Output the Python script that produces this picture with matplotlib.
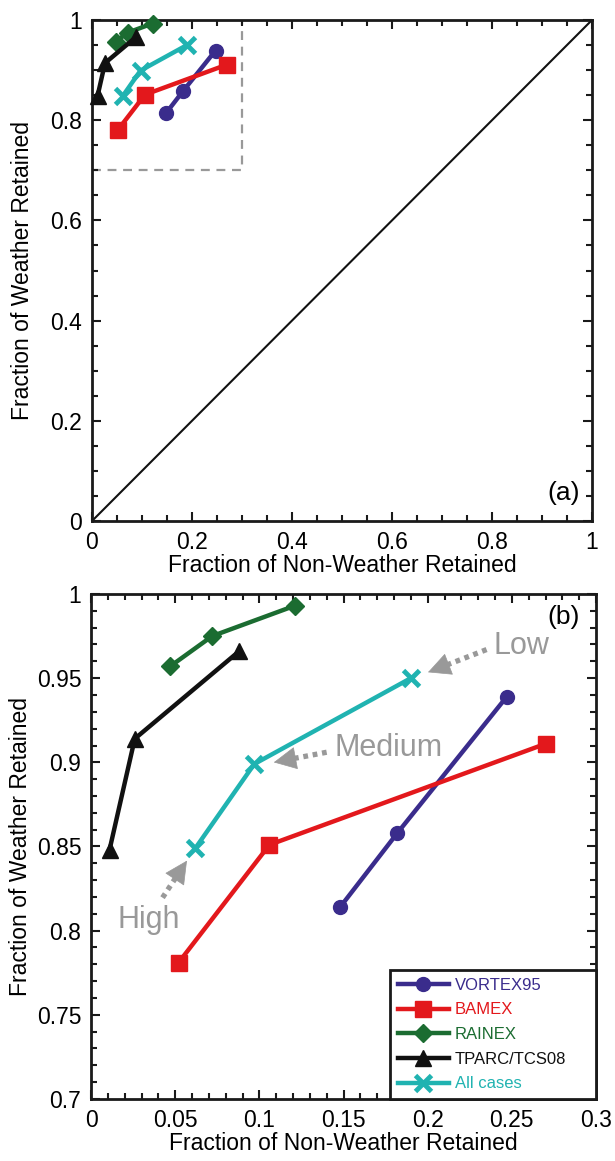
import matplotlib
matplotlib.use('Agg')
import matplotlib.pyplot as plt
from matplotlib.ticker import MultipleLocator, FuncFormatter

# ---------------- data ----------------
series_names = ['VORTEX95', 'BAMEX', 'RAINEX', 'TPARC/TCS08', 'All cases']
vortex_x = [0.148, 0.182, 0.247]
vortex_y = [0.814, 0.858, 0.939]
bamex_x = [0.052, 0.106, 0.270]
bamex_y = [0.781, 0.851, 0.911]
rainex_x = [0.047, 0.072, 0.121]
rainex_y = [0.957, 0.975, 0.993]
tparc_x = [0.011, 0.026, 0.088]
tparc_y = [0.848, 0.914, 0.966]
all_x = [0.062, 0.097, 0.190]
all_y = [0.849, 0.899, 0.950]

level_labels = ['Low', 'Medium', 'High']
level_text_xy = [(0.256, 0.969), (0.177, 0.9085), (0.0343, 0.8065)]
level_tail_xy = [(0.235, 0.967), (0.140, 0.906), (0.0425, 0.8196)]
level_tip_xy = [(0.2002, 0.9535), (0.1086, 0.900), (0.057, 0.8416)]

xs = [vortex_x, bamex_x, rainex_x, tparc_x, all_x]
ys = [vortex_y, bamex_y, rainex_y, tparc_y, all_y]
colors = ['#3a2c8c', '#e3181c', '#1b6c31', '#111111', '#20b3b1']
markers = ['o', 's', 'D', '^', 'x']
msizes = [10, 12, 9, 11, 11]

plt.rcParams['font.family'] = ['Liberation Sans', 'DejaVu Sans']
FS = 16.5

fig = plt.figure(figsize=(6.15, 11.61), dpi=100)
axa = fig.add_axes([92/615, 1-521/1161, 500/615, 501/1161])
axb = fig.add_axes([91/615, 1-1099/1161, 505/615, 505/1161])

fmt = FuncFormatter(lambda v, p: ('%g' % round(v, 4)))


def style(ax, major, minor):
    for s in ax.spines.values():
        s.set_linewidth(2.0)
        s.set_color('#1a1a1a')
    ax.xaxis.set_major_locator(MultipleLocator(major))
    ax.xaxis.set_minor_locator(MultipleLocator(minor))
    ax.yaxis.set_major_locator(MultipleLocator(major))
    ax.yaxis.set_minor_locator(MultipleLocator(minor))
    ax.xaxis.set_major_formatter(fmt)
    ax.yaxis.set_major_formatter(fmt)
    ax.tick_params(which='both', direction='in', top=True, right=True,
                   width=1.5, color='#1a1a1a', labelsize=FS, pad=7)
    ax.tick_params(which='major', length=6.5)
    ax.tick_params(which='minor', length=4.5)
    ax.set_xlabel('Fraction of Non-Weather Retained', fontsize=FS)
    ax.set_ylabel('Fraction of Weather Retained', fontsize=FS)
    ax.xaxis.set_label_coords(0.5, -0.066)
    ax.yaxis.set_label_coords(-0.116, 0.5)


def plot_series(ax):
    handles = []
    for x, y, c, m, ms, name in zip(xs, ys, colors, markers, msizes, series_names):
        mew = 3.5 if m == 'x' else 1
        h, = ax.plot(x, y, color=c, lw=3.2, marker=m, ms=ms, mec=c, mfc=c,
                     mew=mew, label=name, clip_on=False, zorder=3)
        handles.append(h)
    return handles

# ---------------- panel (a) ----------------
plot_series(axa)
axa.plot([0, 1], [0, 1], color='#111111', lw=1.5, zorder=2)
axa.plot([0, 0.3, 0.3], [0.7, 0.7, 1.0], color='#999999', lw=1.6,
         ls=(0, (4, 3)), zorder=1)
axa.set_xlim(0, 1)
axa.set_ylim(0, 1)
style(axa, 0.2, 0.05)
axa.text(0.944, 0.056, '(a)', transform=axa.transAxes, fontsize=19,
         ha='center', va='center')

# ---------------- panel (b) ----------------
handles = plot_series(axb)
axb.set_xlim(0, 0.3)
axb.set_ylim(0.7, 1.0)
style(axb, 0.05, 0.01)
axb.text(0.935, 0.954, '(b)', transform=axb.transAxes, fontsize=19,
         ha='center', va='center')

gray = '#999999'
for lab, txy, tail, tip in zip(level_labels, level_text_xy, level_tail_xy, level_tip_xy):
    axb.text(txy[0], txy[1], lab, fontsize=22, color=gray, ha='center', va='center')
    # dotted shaft
    fx = tip[0] + (tail[0] - tip[0]) * 0.3
    fy = tip[1] + (tail[1] - tip[1]) * 0.3
    axb.annotate('', xy=(fx, fy), xytext=tail,
                 arrowprops=dict(arrowstyle='-', color=gray, lw=3.8,
                                 linestyle=(0, (0.9, 0.9)), capstyle='butt',
                                 shrinkA=0, shrinkB=0))
    # solid head
    hx = tip[0] + (tail[0] - tip[0]) * 0.33
    hy = tip[1] + (tail[1] - tip[1]) * 0.33
    axb.annotate('', xy=tip, xytext=(hx, hy),
                 arrowprops=dict(arrowstyle='-|>,head_length=0.9,head_width=0.45',
                                 color=gray, lw=0.5, shrinkA=0, shrinkB=0,
                                 mutation_scale=17))

leg = axb.legend(handles=handles, loc='lower left',
                 bbox_to_anchor=(299/505, 0, 206/505, 131/505), mode='expand',
                 borderaxespad=0, fancybox=False, framealpha=1,
                 edgecolor='#1a1a1a', fontsize=12, handlelength=3.1,
                 handletextpad=0.35, labelspacing=0.58, borderpad=0.45)
leg.get_frame().set_linewidth(2.0)
for t, c in zip(leg.get_texts(), colors):
    t.set_color(c)

fig.savefig('out.png', dpi=100)
